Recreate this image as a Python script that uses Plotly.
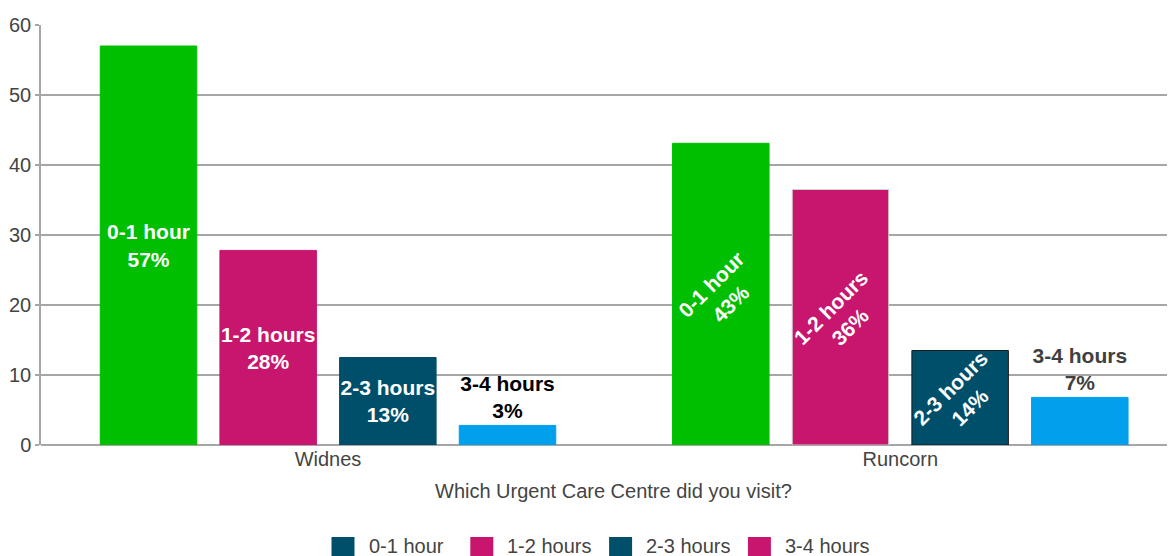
import plotly.graph_objects as go

# ---- data ----
centres = ["Widnes", "Runcorn"]
series = ["0-1 hour", "1-2 hours", "2-3 hours", "3-4 hours"]
widnes_values = [57.0, 27.8, 12.5, 2.8]
runcorn_values = [43.1, 36.5, 13.5, 6.8]
widnes_pct = ["57%", "28%", "13%", "3%"]
runcorn_pct = ["43%", "36%", "14%", "7%"]
y_ticks = [0, 10, 20, 30, 40, 50, 60]
x_title = "Which Urgent Care Centre did you visit?"

values_by_centre = {"Widnes": widnes_values, "Runcorn": runcorn_values}
pct_by_centre = {"Widnes": widnes_pct, "Runcorn": runcorn_pct}

# ---- styles ----
bar_colors = ["#00BE00", "#C8166E", "#004F6A", "#00A0EC"]
legend_colors = ["#004F6A", "#C8166E", "#004F6A", "#C8166E"]
text_angle = {"Widnes": 0, "Runcorn": -45}
outside_text_color = {"Widnes": "#000000", "Runcorn": "#404040"}
border_color = {
    ("Widnes", 0): "#00BE00",
    ("Runcorn", 1): "#D0D0D0",
    ("Runcorn", 2): "#1A1A1A",
}
FONT = "Liberation Sans, Arial, sans-serif"
PAGE_OFF = 8            # default body margin of the html page
W, H = 1175 - PAGE_OFF, 556 - PAGE_OFF
ML, MT = 41 - PAGE_OFF, 25 - PAGE_OFF
MB = H - (445 - PAGE_OFF)
PW = W - ML
PH = H - MT - MB


def px_x(page_px):
    return (page_px - PAGE_OFF - ML) / PW


def px_y(page_py):
    return (445 - page_py) / PH


fig = go.Figure()
for centre in centres:
    for i, s in enumerate(series):
        outside = i == len(series) - 1
        lc = border_color.get((centre, i), bar_colors[i])
        fig.add_trace(go.Bar(
            x=[centre],
            y=[values_by_centre[centre][i]],
            name=s,
            offsetgroup=s,
            showlegend=False,
            marker=dict(color=bar_colors[i], line=dict(color=lc, width=1)),
            text=[f"{s}<br>{pct_by_centre[centre][i]}"],
            textposition="outside" if outside else "inside",
            insidetextanchor="middle",
            textangle=0 if outside else text_angle[centre],
            constraintext="none",
            cliponaxis=False,
            textfont=dict(family=FONT, size=21,
                          color=outside_text_color[centre] if outside else "#FFFFFF",
                          weight="bold"),
            hoverinfo="x+y+name",
        ))

# custom legend (swatch + label)
shapes = []
annotations = []
for i, s in enumerate(series):
    left = 331.5 + i * 138.8
    shapes.append(dict(type="rect", xref="paper", yref="paper",
                       x0=px_x(left), x1=px_x(left + 23),
                       y0=px_y(537), y1=px_y(575),
                       fillcolor=legend_colors[i], line=dict(width=0)))
    annotations.append(dict(xref="paper", yref="paper", x=px_x(left + 35), y=px_y(545.5),
                            xanchor="left", yanchor="middle", showarrow=False,
                            text=s, font=dict(family=FONT, size=20, color="#444444")))

annotations.append(dict(xref="paper", yref="paper", x=px_x(613), y=px_y(491),
                        xanchor="center", yanchor="middle", showarrow=False,
                        text=x_title, font=dict(family=FONT, size=20, color="#444444")))

fig.update_layout(
    width=W, height=H,
    margin=dict(l=ML, r=0, t=MT, b=MB),
    paper_bgcolor="white", plot_bgcolor="white",
    barmode="group", bargap=0.1636, bargroupgap=0.1936,
    showlegend=False,
    font=dict(family=FONT, size=20, color="#444444"),
    shapes=shapes,
    annotations=annotations,
    xaxis=dict(
        type="category", categoryorder="array", categoryarray=centres,
        range=[-0.5015, 1.48], showgrid=False, showline=False, zeroline=False,
        ticks="", ticklen=0,
        tickfont=dict(family=FONT, size=20, color="#444444"),
    ),
    yaxis=dict(
        range=[0, 60], tickvals=y_ticks, showgrid=True, gridcolor="#A6A6A6", gridwidth=1.5,
        zeroline=True, zerolinecolor="#A6A6A6", zerolinewidth=1.5,
        showline=True, linecolor="#A6A6A6", linewidth=1.5,
        ticks="outside", ticklen=4, tickcolor="#A6A6A6", tickwidth=1.5,
        tickfont=dict(family=FONT, size=20, color="#444444"),
    ),
)

fig.write_html("out.html")
